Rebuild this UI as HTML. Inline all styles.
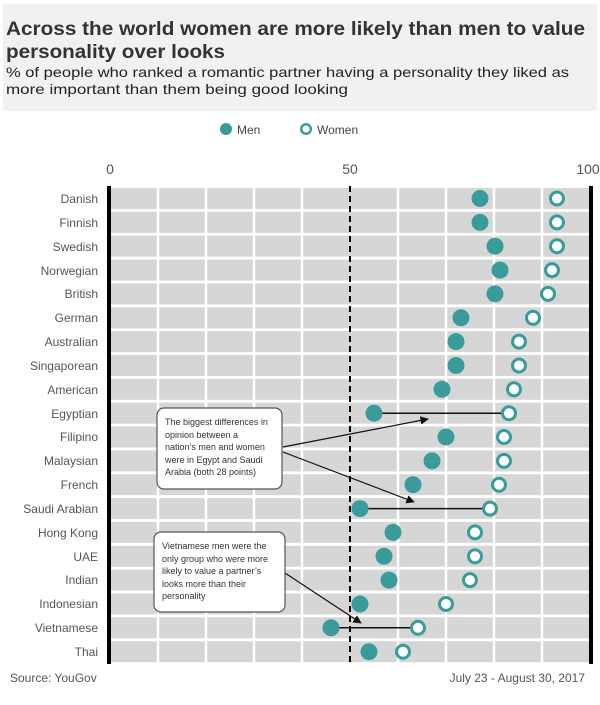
<!DOCTYPE html>
<html><head><meta charset="utf-8"><style>
body{margin:0;background:#fff;width:600px;height:700px;overflow:hidden;font-family:"Liberation Sans",sans-serif}
</style></head><body>
<svg width="600" height="700" xmlns="http://www.w3.org/2000/svg" font-family="Liberation Sans, sans-serif">
<rect x="3" y="4" width="594" height="107" fill="#f0f1f3"/>
<text x="6" y="35" font-size="19.5" font-weight="bold" fill="#333" textLength="579" lengthAdjust="spacingAndGlyphs">Across the world women are more likely than men to value</text>
<text x="6" y="58" font-size="19.5" font-weight="bold" fill="#333" textLength="219" lengthAdjust="spacingAndGlyphs">personality over looks</text>
<text x="6" y="77" font-size="14" fill="#222" textLength="563" lengthAdjust="spacingAndGlyphs">% of people who ranked a romantic partner having a personality they liked as</text>
<text x="6" y="94" font-size="14" fill="#222" textLength="342" lengthAdjust="spacingAndGlyphs">more important than them being good looking</text>
<circle cx="226" cy="129" r="6" fill="#3a9c9a"/>
<text x="237" y="134" font-size="12" fill="#444">Men</text>
<circle cx="306" cy="129" r="4.8" fill="#fff" stroke="#3a9c9a" stroke-width="2.5"/>
<text x="317" y="134" font-size="12" fill="#444">Women</text>
<g font-size="14" fill="#555" text-anchor="middle">
<text x="110" y="174">0</text><text x="350" y="174">50</text><text x="588" y="174">100</text>
</g>
<g fill="#d6d6d6">
<rect x="111" y="188" width="479" height="21"/><rect x="111" y="211.9" width="479" height="21"/><rect x="111" y="235.7" width="479" height="21"/><rect x="111" y="259.6" width="479" height="21"/><rect x="111" y="283.4" width="479" height="21"/><rect x="111" y="307.3" width="479" height="21"/><rect x="111" y="331.1" width="479" height="21"/><rect x="111" y="355" width="479" height="21"/><rect x="111" y="378.8" width="479" height="21"/><rect x="111" y="402.7" width="479" height="21"/><rect x="111" y="426.5" width="479" height="21"/><rect x="111" y="450.4" width="479" height="21"/><rect x="111" y="474.2" width="479" height="21"/><rect x="111" y="498.1" width="479" height="21"/><rect x="111" y="521.9" width="479" height="21"/><rect x="111" y="545.8" width="479" height="21"/><rect x="111" y="569.6" width="479" height="21"/><rect x="111" y="593.5" width="479" height="21"/><rect x="111" y="617.3" width="479" height="21"/><rect x="111" y="641.2" width="479" height="21"/>
</g>
<g stroke="#fff" stroke-width="2.5">
<line x1="158" y1="186" x2="158" y2="664"/><line x1="206" y1="186" x2="206" y2="664"/><line x1="254" y1="186" x2="254" y2="664"/><line x1="302" y1="186" x2="302" y2="664"/><line x1="398" y1="186" x2="398" y2="664"/><line x1="446" y1="186" x2="446" y2="664"/><line x1="494" y1="186" x2="494" y2="664"/><line x1="542" y1="186" x2="542" y2="664"/>
</g>
<line x1="350" y1="186" x2="350" y2="664" stroke="#000" stroke-width="2" stroke-dasharray="6,4"/>
<rect x="107" y="186" width="4" height="478" fill="#000"/>
<rect x="589" y="186" width="4" height="478" fill="#000"/>
<g font-size="12" fill="#555" text-anchor="end">
<text x="98" y="203">Danish</text><text x="98" y="227">Finnish</text><text x="98" y="251">Swedish</text><text x="98" y="275">Norwegian</text><text x="98" y="298">British</text><text x="98" y="322">German</text><text x="98" y="346">Australian</text><text x="98" y="370">Singaporean</text><text x="98" y="394">American</text><text x="98" y="418">Egyptian</text><text x="98" y="441">Filipino</text><text x="98" y="465">Malaysian</text><text x="98" y="489">French</text><text x="98" y="513">Saudi Arabian</text><text x="98" y="537">Hong Kong</text><text x="98" y="561">UAE</text><text x="98" y="584">Indian</text><text x="98" y="608">Indonesian</text><text x="98" y="632">Vietnamese</text><text x="98" y="656">Thai</text>
</g>
<g stroke="#111" stroke-width="1.5">
<line x1="374" y1="413.2" x2="509" y2="413.2"/><line x1="360" y1="508.6" x2="490" y2="508.6"/><line x1="331" y1="627.8" x2="418" y2="627.8"/>
</g>
<g fill="#3a9c9a">
<circle cx="480" cy="198.5" r="8.5"/><circle cx="480" cy="222.4" r="8.5"/><circle cx="495" cy="246.2" r="8.5"/><circle cx="500" cy="270.1" r="8.5"/><circle cx="495" cy="293.9" r="8.5"/><circle cx="461" cy="317.8" r="8.5"/><circle cx="456" cy="341.6" r="8.5"/><circle cx="456" cy="365.5" r="8.5"/><circle cx="442" cy="389.3" r="8.5"/><circle cx="374" cy="413.2" r="8.5"/><circle cx="446" cy="437" r="8.5"/><circle cx="432" cy="460.9" r="8.5"/><circle cx="413" cy="484.7" r="8.5"/><circle cx="360" cy="508.6" r="8.5"/><circle cx="393" cy="532.4" r="8.5"/><circle cx="384" cy="556.3" r="8.5"/><circle cx="389" cy="580.1" r="8.5"/><circle cx="360" cy="604" r="8.5"/><circle cx="331" cy="627.8" r="8.5"/><circle cx="369" cy="651.7" r="8.5"/>
</g>
<g fill="#fff" stroke="#3a9c9a" stroke-width="3">
<circle cx="557" cy="198.5" r="6.5"/><circle cx="557" cy="222.4" r="6.5"/><circle cx="557" cy="246.2" r="6.5"/><circle cx="552" cy="270.1" r="6.5"/><circle cx="548" cy="293.9" r="6.5"/><circle cx="533" cy="317.8" r="6.5"/><circle cx="519" cy="341.6" r="6.5"/><circle cx="519" cy="365.5" r="6.5"/><circle cx="514" cy="389.3" r="6.5"/><circle cx="509" cy="413.2" r="6.5"/><circle cx="504" cy="437" r="6.5"/><circle cx="504" cy="460.9" r="6.5"/><circle cx="499" cy="484.7" r="6.5"/><circle cx="490" cy="508.6" r="6.5"/><circle cx="475" cy="532.4" r="6.5"/><circle cx="475" cy="556.3" r="6.5"/><circle cx="470" cy="580.1" r="6.5"/><circle cx="446" cy="604" r="6.5"/><circle cx="418" cy="627.8" r="6.5"/><circle cx="403" cy="651.7" r="6.5"/>
</g>
<defs><marker id="a" viewBox="0 0 10 10" refX="9" refY="5" markerWidth="7" markerHeight="7" orient="auto"><path d="M0,0 L10,5 L0,10 z" fill="#111"/></marker></defs>
<g stroke="#111" stroke-width="1.2" fill="none">
<line x1="283" y1="447" x2="428" y2="419" marker-end="url(#a)"/>
<line x1="283" y1="452" x2="414" y2="502" marker-end="url(#a)"/>
<line x1="285" y1="573" x2="361" y2="623" marker-end="url(#a)"/>
</g>
<rect x="157" y="408" width="125" height="81" rx="7" fill="#fff" stroke="#555" stroke-width="1.2"/>
<g font-size="9" fill="#333">
<text x="165" y="425">The biggest differences in</text><text x="165" y="438">opinion between a</text><text x="165" y="450">nation’s men and women</text><text x="165" y="463">were in Egypt and Saudi</text><text x="165" y="475">Arabia (both 28 points)</text>
</g>
<rect x="154" y="532" width="131" height="80" rx="7" fill="#fff" stroke="#555" stroke-width="1.2"/>
<g font-size="9" fill="#333">
<text x="162" y="549">Vietnamese men were the</text><text x="162" y="562">only group who were more</text><text x="162" y="574">likely to value a partner’s</text><text x="162" y="587">looks more than their</text><text x="162" y="599">personality</text>
</g>
<text x="10" y="682" font-size="12" fill="#555">Source: YouGov</text>
<text x="585" y="682" font-size="12" fill="#555" text-anchor="end">July 23 - August 30, 2017</text>
</svg>
</body></html>
